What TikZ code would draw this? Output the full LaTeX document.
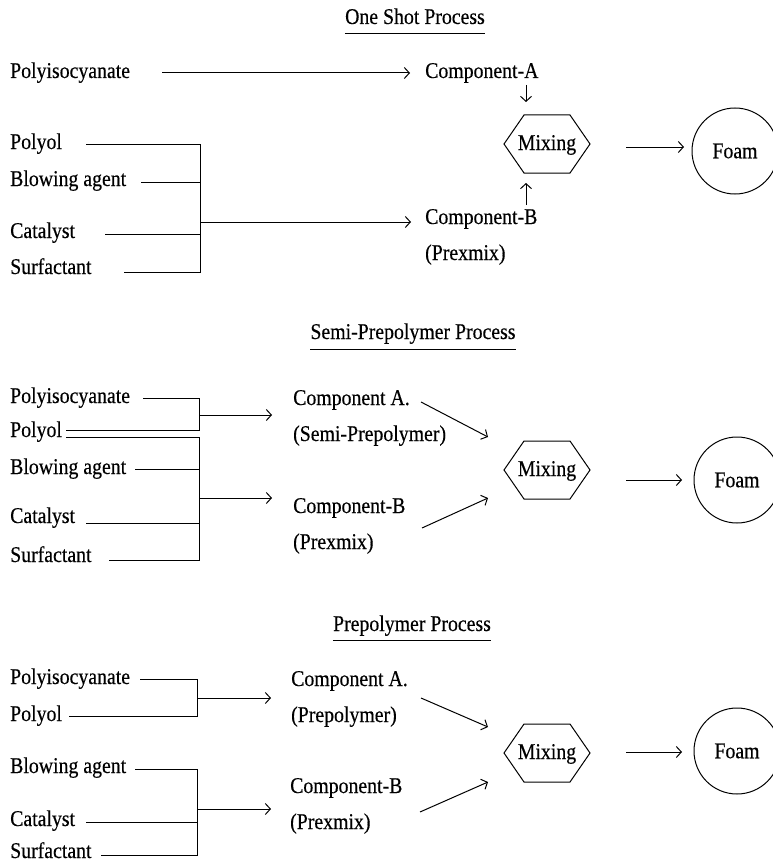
\documentclass[tikz,border=0pt]{standalone}
\usepackage{fontspec}
\setmainfont{Liberation Serif}[FakeStretch=0.88, FakeBold=0.3]
\usetikzlibrary{arrows.meta}
\tikzset{
  txt/.style={inner sep=0pt, text height=16pt, text depth=4pt, font=\fontsize{22.5}{26}\selectfont},
  lbl/.style={txt, anchor=west},
  ttl/.style={txt, anchor=center},
  ln/.style={line width=1pt},
  arr/.style={ln, -{Straight Barb[length=5pt,width=11pt]}},
  foam/.style={circle, draw, line width=1pt, minimum size=86pt, inner sep=0pt, font=\fontsize{22.5}{26}\selectfont},
}
\newcommand{\hexaround}[1]{\draw[ln] (#1.center) ++(-43,0) -- ++(20,-29) -- ++(46,0) -- ++(20,29) -- ++(-20,29) -- ++(-46,0) -- cycle;}
\begin{document}
\begin{tikzpicture}[x=1pt,y=-1pt]
\clip (0,0) rectangle (773,864);
\fill[white] (0,0) rectangle (773,864);

% ---------------- One Shot Process ----------------
\node[ttl] (t1) at (415,18) {One Shot Process};
\draw[ln] ([yshift=-5pt]t1.south west) -- ([yshift=-5pt]t1.south east);

\node[lbl] (pi1) at (10,72) {Polyisocyanate};
\node[lbl] (ca1) at (425,72) {Component-A};
\node[ttl] (m1) at (547,144) {Mixing};
\hexaround{m1}
\node[foam] (f1) at (735,151) {Foam};
\node[lbl] (cb1) at (425,218) {Component-B};
\node[lbl] (px1) at (425,254) {(Prexmix)};
\node[lbl] (po1) at (10,143) {Polyol};
\node[lbl] (bl1) at (10,180) {Blowing agent};
\node[lbl] (ct1) at (10,232) {Catalyst};
\node[lbl] (su1) at (10,268) {Surfactant};

\coordinate (pi1s) at (162,73);
\coordinate (ca1e) at (410,73);
\coordinate (po1s) at (86,144);
\coordinate (bl1s) at (141,182);
\coordinate (ct1s) at (105,234);
\coordinate (su1s) at (124,272);
\coordinate (b1t) at (200,144);
\coordinate (b1b) at (200,272);
\coordinate (b1m) at (200,182);
\coordinate (b1c) at (200,234);
\coordinate (b1o) at (200,222);
\coordinate (cb1e) at (411,222);
\coordinate (d1s) at (526,85);
\coordinate (d1e) at (526,102);
\coordinate (u1s) at (526,205);
\coordinate (u1e) at (526,183);
\coordinate (mf1s) at (626,147);
\coordinate (mf1e) at (684,147);

\draw[arr] (pi1s) -- (ca1e);
\draw[ln] (po1s) -- (b1t) -- (b1b) -- (su1s);
\draw[ln] (bl1s) -- (b1m);
\draw[ln] (ct1s) -- (b1c);
\draw[arr] (b1o) -- (cb1e);
\draw[arr] (d1s) -- (d1e);
\draw[arr] (u1s) -- (u1e);
\draw[arr] (mf1s) -- (mf1e);

% ---------------- Semi-Prepolymer Process ----------------
\node[ttl] (t2) at (413,333) {Semi-Prepolymer Process};
\draw[ln] ([yshift=-6pt]t2.south west) -- ([yshift=-6pt]t2.south east);

\node[lbl] (pi2) at (10,397) {Polyisocyanate};
\node[lbl] (po2) at (10,431) {Polyol};
\node[lbl] (bl2) at (10,468) {Blowing agent};
\node[lbl] (ct2) at (10,517) {Catalyst};
\node[lbl] (su2) at (10,556) {Surfactant};
\node[lbl] (ca2) at (293,399) {Component A.};
\node[lbl] (sp2) at (293,435) {(Semi-Prepolymer)};
\node[lbl] (cb2) at (293,507) {Component-B};
\node[lbl] (px2) at (293,543) {(Prexmix)};
\node[ttl] (m2) at (547,470) {Mixing};
\hexaround{m2}
\node[foam] (f2) at (737,480) {Foam};

\coordinate (pi2s) at (143,398);
\coordinate (a2t) at (199,398);
\coordinate (a2b) at (199,430);
\coordinate (po2u) at (66,430);
\coordinate (po2l) at (66,437);
\coordinate (b2t) at (199,437);
\coordinate (b2b) at (199,560);
\coordinate (su2s) at (109,560);
\coordinate (bl2s) at (135,469);
\coordinate (b2m) at (199,469);
\coordinate (ct2s) at (86,523);
\coordinate (b2c) at (199,523);
\coordinate (a2o) at (199,415);
\coordinate (ca2e) at (272,415);
\coordinate (b2o) at (199,498);
\coordinate (cb2e) at (272,498);
\coordinate (ca2x) at (421,402);
\coordinate (m2a) at (488,437);
\coordinate (cb2x) at (422,528);
\coordinate (m2b) at (488,498);
\coordinate (mf2s) at (626,480);
\coordinate (mf2e) at (682,480);

\draw[ln] (pi2s) -- (a2t) -- (a2b) -- (po2u);
\draw[ln] (po2l) -- (b2t) -- (b2b) -- (su2s);
\draw[ln] (bl2s) -- (b2m);
\draw[ln] (ct2s) -- (b2c);
\draw[arr] (a2o) -- (ca2e);
\draw[arr] (b2o) -- (cb2e);
\draw[arr] (ca2x) -- (m2a);
\draw[arr] (cb2x) -- (m2b);
\draw[arr] (mf2s) -- (mf2e);

% ---------------- Prepolymer Process ----------------
\node[ttl] (t3) at (412,625) {Prepolymer Process};
\draw[ln] ([yshift=-5pt]t3.south west) -- ([yshift=-5pt]t3.south east);

\node[lbl] (pi3) at (10,678) {Polyisocyanate};
\node[lbl] (po3) at (10,715) {Polyol};
\node[lbl] (bl3) at (10,767) {Blowing agent};
\node[lbl] (ct3) at (10,820) {Catalyst};
\node[lbl] (su3) at (10,852) {Surfactant};
\node[lbl] (ca3) at (291,680) {Component A.};
\node[lbl] (pp3) at (291,716) {(Prepolymer)};
\node[lbl] (cb3) at (290,787) {Component-B};
\node[lbl] (px3) at (290,823) {(Prexmix)};
\node[ttl] (m3) at (547,753) {Mixing};
\hexaround{m3}
\node[foam] (f3) at (737,751) {Foam};

\coordinate (pi3s) at (140,679);
\coordinate (a3t) at (197,679);
\coordinate (a3b) at (197,716);
\coordinate (po3s) at (69,716);
\coordinate (a3o) at (197,698);
\coordinate (ca3e) at (271,698);
\coordinate (bl3s) at (135,769);
\coordinate (b3t) at (197,769);
\coordinate (b3b) at (197,855);
\coordinate (su3s) at (101,855);
\coordinate (ct3s) at (86,822);
\coordinate (b3c) at (197,822);
\coordinate (b3o) at (197,809);
\coordinate (cb3e) at (271,809);
\coordinate (ca3x) at (421,698);
\coordinate (m3a) at (488,727);
\coordinate (cb3x) at (420,812);
\coordinate (m3b) at (488,782);
\coordinate (mf3s) at (626,752);
\coordinate (mf3e) at (682,752);

\draw[ln] (pi3s) -- (a3t) -- (a3b) -- (po3s);
\draw[ln] (bl3s) -- (b3t) -- (b3b) -- (su3s);
\draw[ln] (ct3s) -- (b3c);
\draw[arr] (a3o) -- (ca3e);
\draw[arr] (b3o) -- (cb3e);
\draw[arr] (ca3x) -- (m3a);
\draw[arr] (cb3x) -- (m3b);
\draw[arr] (mf3s) -- (mf3e);
\end{tikzpicture}
\end{document}
